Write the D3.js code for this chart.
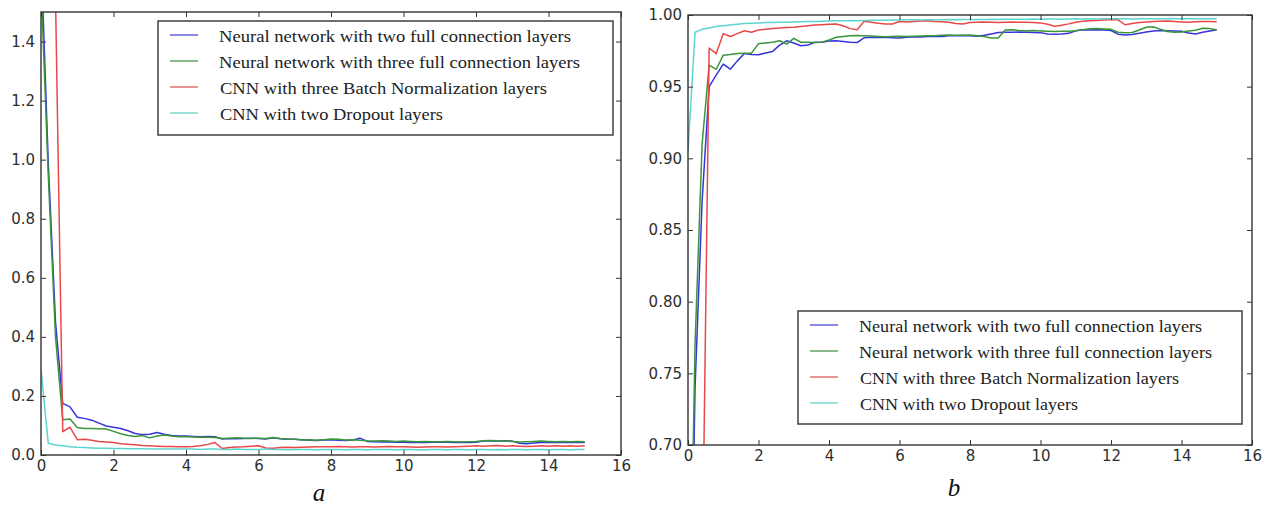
<!DOCTYPE html>
<html>
<head>
<meta charset="utf-8">
<script src="https://cdn.jsdelivr.net/npm/d3@7"></script>
<style>
  body { margin: 0; background: #fff; }
  svg { display: block; }
  .tick text { font-family: "DejaVu Sans", sans-serif; font-size: 15px; fill: #2e2e2e; }
  .tick line { stroke: #333; stroke-width: 1; }
  .legend text { font-family: "Liberation Serif", serif; font-size: 17px; fill: #222; }
</style>
</head>
<body>
<svg id="chart" width="1270" height="506"></svg>
<script>
// epochs (x) shared by both panels
const epochs = [
  0, 0.2, 0.4, 0.6, 0.8, 1, 1.2, 1.4, 1.6, 1.8,
  2, 2.2, 2.4, 2.6, 2.8, 3, 3.2, 3.4, 3.6, 3.8,
  4, 4.2, 4.4, 4.6, 4.8, 5, 5.2, 5.4, 5.6, 5.8,
  6, 6.2, 6.4, 6.6, 6.8, 7, 7.2, 7.4, 7.6, 7.8,
  8, 8.2, 8.4, 8.6, 8.8, 9, 9.2, 9.4, 9.6, 9.8,
  10, 10.2, 10.4, 10.6, 10.8, 11, 11.2, 11.4, 11.6, 11.8,
  12, 12.2, 12.4, 12.6, 12.8, 13, 13.2, 13.4, 13.6, 13.8,
  14, 14.2, 14.4, 14.6, 14.8, 15
];

const seriesNames = [
  "Neural network with two full connection layers",
  "Neural network with three full connection layers",
  "CNN with three Batch Normalization layers",
  "CNN with two Dropout layers"
];

// panel a : loss
const lossTwoFc = [
  1.70, 0.99, 0.45, 0.175, 0.163, 0.128, 0.124, 0.118, 0.108, 0.098,
  0.094, 0.090, 0.082, 0.073, 0.069, 0.070, 0.076, 0.070, 0.066, 0.064,
  0.064, 0.063, 0.062, 0.063, 0.062, 0.054, 0.056, 0.055, 0.056, 0.057,
  0.056, 0.054, 0.058, 0.055, 0.053, 0.053, 0.052, 0.050, 0.049, 0.051,
  0.052, 0.050, 0.049, 0.051, 0.057, 0.046, 0.045, 0.044, 0.045, 0.043,
  0.043, 0.042, 0.043, 0.042, 0.043, 0.044, 0.043, 0.042, 0.043, 0.042,
  0.043, 0.047, 0.048, 0.047, 0.048, 0.047, 0.040, 0.038, 0.041, 0.042,
  0.042, 0.043, 0.042, 0.043, 0.042, 0.042
];
const lossThreeFc = [
  1.60, 0.95, 0.40, 0.119, 0.122, 0.093, 0.090, 0.090, 0.089, 0.088,
  0.080, 0.072, 0.066, 0.063, 0.066, 0.058, 0.064, 0.068, 0.064, 0.062,
  0.062, 0.061, 0.060, 0.060, 0.059, 0.056, 0.057, 0.058, 0.057, 0.056,
  0.057, 0.056, 0.059, 0.056, 0.054, 0.053, 0.051, 0.052, 0.050, 0.052,
  0.054, 0.053, 0.051, 0.052, 0.050, 0.048, 0.047, 0.048, 0.047, 0.046,
  0.047, 0.046, 0.045, 0.046, 0.045, 0.045, 0.046, 0.045, 0.044, 0.045,
  0.046, 0.048, 0.049, 0.048, 0.047, 0.046, 0.044, 0.045, 0.046, 0.047,
  0.046, 0.045, 0.046, 0.045, 0.046, 0.045
];
const lossBatchNorm = [
  2.30, 2.20, 1.55, 0.079, 0.094, 0.052, 0.053, 0.050, 0.046, 0.044,
  0.042, 0.038, 0.036, 0.035, 0.032, 0.031, 0.030, 0.029, 0.029, 0.028,
  0.028, 0.029, 0.031, 0.036, 0.042, 0.022, 0.025, 0.027, 0.028, 0.030,
  0.031, 0.024, 0.023, 0.025, 0.026, 0.025, 0.026, 0.027, 0.028, 0.028,
  0.028, 0.029, 0.028, 0.027, 0.028, 0.028, 0.027, 0.028, 0.029, 0.028,
  0.028, 0.027, 0.026, 0.027, 0.028, 0.028, 0.027, 0.028, 0.029, 0.030,
  0.031, 0.030, 0.031, 0.032, 0.030, 0.031, 0.030, 0.029, 0.030, 0.031,
  0.030, 0.031, 0.030, 0.031, 0.030, 0.031
];
const lossDropout = [
  0.29, 0.040, 0.034, 0.031, 0.028, 0.026, 0.025, 0.024, 0.023, 0.023,
  0.022, 0.022, 0.021, 0.021, 0.021, 0.020, 0.020, 0.020, 0.020, 0.020,
  0.020, 0.020, 0.019, 0.020, 0.020, 0.019, 0.019, 0.020, 0.019, 0.019,
  0.019, 0.020, 0.019, 0.019, 0.018, 0.019, 0.019, 0.019, 0.018, 0.019,
  0.019, 0.019, 0.018, 0.019, 0.019, 0.018, 0.019, 0.019, 0.019, 0.018,
  0.019, 0.019, 0.018, 0.018, 0.019, 0.019, 0.018, 0.019, 0.019, 0.018,
  0.019, 0.019, 0.018, 0.019, 0.018, 0.019, 0.019, 0.018, 0.019, 0.019,
  0.018, 0.019, 0.019, 0.018, 0.019, 0.019
];

// panel b : accuracy
const accTwoFc = [
  0.45, 0.74, 0.87, 0.950, 0.958, 0.9657, 0.9622, 0.968, 0.9732, 0.9725,
  0.9722, 0.9735, 0.9746, 0.979, 0.982, 0.9805, 0.9785, 0.979, 0.981, 0.981,
  0.9818, 0.982, 0.9815, 0.981, 0.9808, 0.9842, 0.9845, 0.9843, 0.9845, 0.9842,
  0.9840, 0.9845, 0.9848, 0.9846, 0.9850, 0.985, 0.985, 0.9855, 0.9855, 0.9857,
  0.9855, 0.9852, 0.9858, 0.9868, 0.9878, 0.9880, 0.9879, 0.9881, 0.9880, 0.9878,
  0.9877, 0.9868, 0.9866, 0.9867, 0.9872, 0.9890, 0.9897, 0.9896, 0.9897, 0.9895,
  0.9892, 0.9866, 0.9860, 0.9864, 0.9872, 0.9882, 0.9888, 0.9891, 0.9890, 0.9889,
  0.9886, 0.9874, 0.9868, 0.9880, 0.9889, 0.9897
];
const accThreeFc = [
  0.50, 0.77, 0.91, 0.965, 0.962, 0.972, 0.9725, 0.9732, 0.9733, 0.9734,
  0.980, 0.9805, 0.981, 0.982, 0.9797, 0.9837, 0.981, 0.981, 0.9808, 0.981,
  0.9825, 0.9845, 0.985, 0.9855, 0.9857, 0.9855, 0.9853, 0.9850, 0.9848, 0.9850,
  0.9852, 0.9850, 0.9851, 0.9853, 0.9855, 0.9856, 0.9858, 0.9860, 0.9858, 0.9859,
  0.9860, 0.9855, 0.9850, 0.9840, 0.9840, 0.9895, 0.9897, 0.9892, 0.9890, 0.9891,
  0.9888, 0.9886, 0.9885, 0.9886, 0.9887, 0.9890, 0.9898, 0.9904, 0.9905, 0.9903,
  0.9900, 0.9880, 0.9876, 0.9878, 0.9895, 0.9915, 0.9918, 0.9900, 0.9885, 0.9880,
  0.9882, 0.9888, 0.9894, 0.9908, 0.9905, 0.9897
];
const accBatchNorm = [
  0.30, 0.40, 0.60, 0.977, 0.973, 0.987, 0.985, 0.987, 0.989, 0.988,
  0.9895, 0.990, 0.9905, 0.991, 0.9912, 0.9915, 0.992, 0.9925, 0.993, 0.9932,
  0.9935, 0.9937, 0.9925, 0.9905, 0.9897, 0.9956, 0.9950, 0.9942, 0.9938, 0.9937,
  0.9955, 0.9952, 0.9955, 0.9958, 0.9960, 0.9955, 0.9953, 0.9950, 0.9940, 0.9937,
  0.9948, 0.9950, 0.9952, 0.9950, 0.9948, 0.9950, 0.9951, 0.9949, 0.9950, 0.9948,
  0.9945, 0.9935, 0.9922, 0.9928, 0.9938, 0.9950, 0.9956, 0.9960, 0.9962, 0.9965,
  0.9968, 0.9966, 0.9932, 0.9940, 0.9948, 0.9952, 0.9955, 0.9956, 0.9958, 0.9955,
  0.9952, 0.9950, 0.9953, 0.9955, 0.9954, 0.9953
];
const accDropout = [
  0.905, 0.988, 0.990, 0.991, 0.992, 0.9925, 0.993, 0.9935, 0.994, 0.9942,
  0.9945, 0.9947, 0.9948, 0.995, 0.995, 0.9952, 0.9953, 0.9955, 0.9955, 0.9956,
  0.9958, 0.996, 0.996, 0.9961, 0.996, 0.9962, 0.9963, 0.9963, 0.9964, 0.9965,
  0.9965, 0.9966, 0.9966, 0.9965, 0.9966, 0.9967, 0.9967, 0.9968, 0.9967, 0.9968,
  0.9969, 0.9968, 0.9969, 0.997, 0.9969, 0.997, 0.9971, 0.997, 0.9971, 0.9972,
  0.9971, 0.9972, 0.9972, 0.9971, 0.9972, 0.9973, 0.9972, 0.9973, 0.9972, 0.9973,
  0.9973, 0.9974, 0.9973, 0.9972, 0.9973, 0.9974, 0.9973, 0.9974, 0.9973, 0.9974,
  0.9974, 0.9973, 0.9974, 0.9974, 0.9973, 0.9974
];

// ticks
const xTicks = [0, 2, 4, 6, 8, 10, 12, 14, 16];
const lossTicks = [0.0, 0.2, 0.4, 0.6, 0.8, 1.0, 1.2, 1.4];
const accTicks = [0.70, 0.75, 0.80, 0.85, 0.90, 0.95, 1.00];

const colors = ["#3535dc", "#3a963a", "#e84848", "#5cd4cf"];
const legendColors = ["#6d6dd8", "#6aa86a", "#e27a7a", "#86d8d4"];

const svg = d3.select("#chart");

/**
 * dessine un panneau (axes + courbes + légende)
 */
function drawPanel(p) {
  const x = d3.scaleLinear().domain([0, 16]).range([p.left, p.right]);
  const y = d3.scaleLinear().domain(p.yDomain).range([p.bottom, p.top]);
  const g = svg.append("g");

  // clip de la zone de tracé
  g.append("clipPath").attr("id", p.id + "-clip")
    .append("rect")
    .attr("x", p.left).attr("y", p.top)
    .attr("width", p.right - p.left).attr("height", p.bottom - p.top);

  const line = d3.line()
    .x((d, i) => x(epochs[i]))
    .y(d => y(d));

  const plot = g.append("g").attr("clip-path", `url(#${p.id}-clip)`);
  p.series.forEach(function(s, i) {
    plot.append("path")
      .datum(s)
      .attr("fill", "none")
      .attr("stroke", colors[i])
      .attr("stroke-width", 1.5)
      .attr("stroke-linejoin", "round")
      .attr("d", line);
  });

  // axes avec graduations vers l'intérieur
  g.append("g").attr("transform", `translate(0,${p.bottom})`)
    .call(d3.axisBottom(x).tickValues(xTicks).tickSize(-5).tickPadding(5).tickFormat(d3.format("d")))
    .call(a => a.select(".domain").remove());
  g.append("g").attr("transform", `translate(0,${p.top})`)
    .call(d3.axisTop(x).tickValues(xTicks).tickSize(-5).tickFormat(""))
    .call(a => a.select(".domain").remove());
  g.append("g").attr("transform", `translate(${p.left},0)`)
    .call(d3.axisLeft(y).tickValues(p.yTicks).tickSize(-5).tickPadding(6).tickFormat(p.yFormat))
    .call(a => a.select(".domain").remove());
  g.append("g").attr("transform", `translate(${p.right},0)`)
    .call(d3.axisRight(y).tickValues(p.yTicks).tickSize(-5).tickFormat(""))
    .call(a => a.select(".domain").remove());

  // cadre
  g.append("rect")
    .attr("x", p.left).attr("y", p.top)
    .attr("width", p.right - p.left).attr("height", p.bottom - p.top)
    .attr("fill", "none").attr("stroke", "#333").attr("stroke-width", 1.4);

  // légende
  const lg = g.append("g").attr("class", "legend");
  lg.append("rect")
    .attr("x", p.legend.x).attr("y", p.legend.y)
    .attr("width", p.legend.w).attr("height", p.legend.h)
    .attr("fill", "#fff").attr("stroke", "#333").attr("stroke-width", 1.4);
  seriesNames.forEach(function(name, i) {
    const cy = p.legend.y + 14 + i * 26;
    lg.append("line")
      .attr("x1", p.legend.x + 12).attr("x2", p.legend.x + 40)
      .attr("y1", cy).attr("y2", cy)
      .attr("stroke", legendColors[i]).attr("stroke-width", 1.6);
    lg.append("text")
      .attr("x", p.legend.x + p.legend.tx + (i > 1 ? 1 : 0))
      .attr("y", cy + 7)
      .attr("textLength", p.legend.widths[i])
      .attr("lengthAdjust", "spacingAndGlyphs")
      .text(name);
  });

  // lettre du panneau
  g.append("text")
    .attr("x", p.labelX).attr("y", p.labelY)
    .attr("text-anchor", "middle")
    .style("font-family", "Liberation Serif, serif")
    .style("font-style", "italic")
    .style("font-size", "25px")
    .style("fill", "#111")
    .text(p.label);
}

drawPanel({
  id: "a", left: 41, right: 621, top: 12, bottom: 455,
  yDomain: [0, 1.5], yTicks: lossTicks, yFormat: d3.format(".1f"),
  series: [lossTwoFc, lossThreeFc, lossBatchNorm, lossDropout],
  legend: { x: 158, y: 21, w: 455, h: 114, tx: 61, widths: [352, 361, 327, 223] },
  label: "a", labelX: 319, labelY: 501
});

drawPanel({
  id: "b", left: 688, right: 1252, top: 15, bottom: 445,
  yDomain: [0.7, 1.0], yTicks: accTicks, yFormat: d3.format(".2f"),
  series: [accTwoFc, accThreeFc, accBatchNorm, accDropout],
  legend: { x: 798, y: 311, w: 444, h: 113, tx: 61, widths: [343, 353, 319, 218] },
  label: "b", labelX: 954, labelY: 496
});
</script>
</body>
</html>
